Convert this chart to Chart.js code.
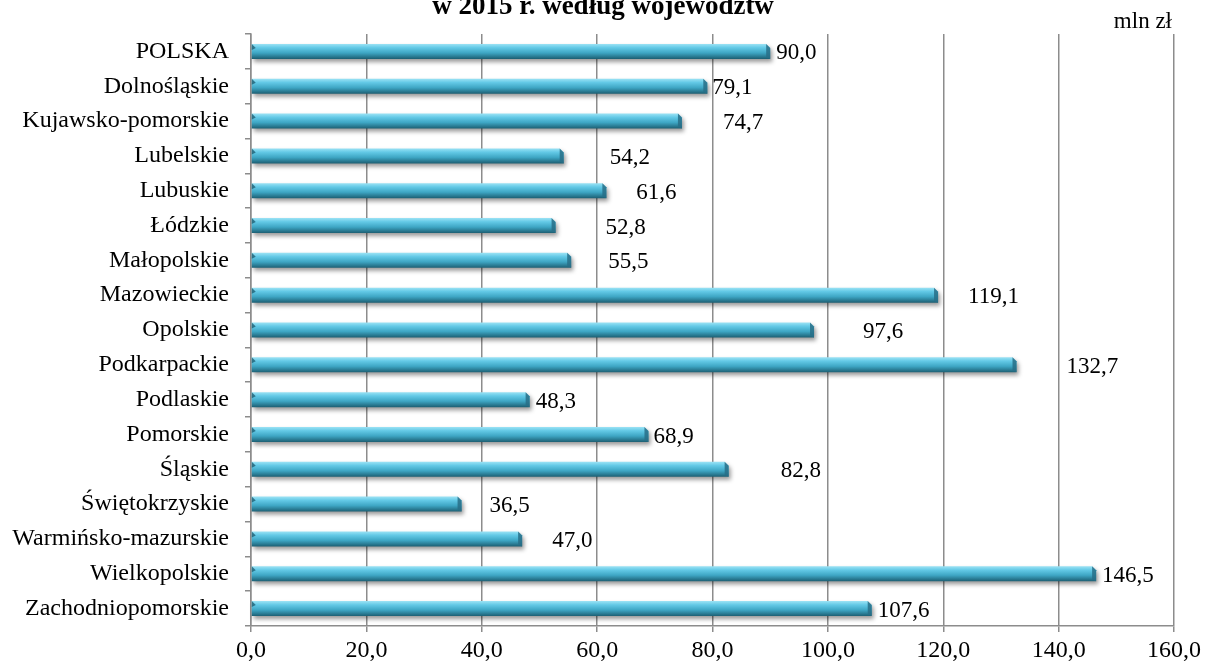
<!DOCTYPE html>
<html lang="pl">
<head>
<meta charset="utf-8">
<title>Województwa 2015</title>
<script src="https://cdn.jsdelivr.net/npm/chart.js@4.4.1/dist/chart.umd.min.js"></script>
<style>
  html, body { margin: 0; padding: 0; background: #fff; overflow: hidden; }
  #wrap { position: relative; width: 1205px; height: 663px; }
</style>
</head>
<body>
<div id="wrap"><canvas id="chart"></canvas></div>
<script>
// categories, top to bottom
const regions = [
    "POLSKA", "Dolnośląskie", "Kujawsko-pomorskie", "Lubelskie", "Lubuskie",
    "Łódzkie", "Małopolskie", "Mazowieckie", "Opolskie", "Podkarpackie",
    "Podlaskie", "Pomorskie", "Śląskie", "Świętokrzyskie", "Warmińsko-mazurskie",
    "Wielkopolskie", "Zachodniopomorskie"
];
// mln zł
const values = [90.0, 79.1, 74.7, 54.2, 61.6, 52.8, 55.5, 119.1, 97.6, 132.7,
                48.3, 68.9, 82.8, 36.5, 47.0, 146.5, 107.6];
const xTicks = [0, 20, 40, 60, 80, 100, 120, 140, 160];

// how far each value label sits right of its bar end (px), as placed in the original
const labelGap = [6, 5, 41, 46, 30, 50, 37, 30, 49, 50, 6, 5, 52, 28, 30, 6, 6];

const serif = "'Liberation Serif', 'DejaVu Serif', serif";
const gridGray = "#8c8c8c";

function fmt(v) {
    return v.toFixed(1).replace(".", ",");
}

/**
 * Paints the bars as shaded cylinders with a drop shadow, like the Excel style
 */
const barLook = {
    id: "barLook",
    beforeDatasetDraw(chart, args) {
        const ctx = chart.ctx;
        args.meta.data.forEach(bar => {
            const h = bar.height;
            const top = bar.y - h / 2;
            const bot = top + h;
            const left = bar.base;
            const right = bar.x;
            const c = 4;

            ctx.save();
            ctx.shadowColor = "rgba(0,0,0,0.4)";
            ctx.shadowBlur = 4;
            ctx.shadowOffsetX = 2;
            ctx.shadowOffsetY = 3;
            let g = ctx.createLinearGradient(0, top, 0, bot);
            g.addColorStop(0, "#9ce3f5");
            g.addColorStop(0.25, "#63c9e6");
            g.addColorStop(0.6, "#3ea6c4");
            g.addColorStop(1, "#1c5f73");
            ctx.fillStyle = g;
            ctx.beginPath();
            ctx.moveTo(left, top);
            ctx.lineTo(right - c, top);
            ctx.lineTo(right, top + c);
            ctx.lineTo(right, bot);
            ctx.lineTo(left, bot);
            ctx.closePath();
            ctx.fill();
            ctx.restore();

            // bevel on the right end
            ctx.save();
            ctx.fillStyle = "rgba(40,110,135,0.85)";
            ctx.beginPath();
            ctx.moveTo(right - c, top);
            ctx.lineTo(right, top + c);
            ctx.lineTo(right, bot);
            ctx.lineTo(right - c, bot - 2);
            ctx.closePath();
            ctx.fill();
            // small bevel on the left end
            ctx.fillStyle = "rgba(30,95,115,0.8)";
            ctx.beginPath();
            ctx.moveTo(left, top);
            ctx.lineTo(left + c, top + c);
            ctx.lineTo(left, top + c + 2);
            ctx.closePath();
            ctx.fill();
            ctx.restore();
        });
        return false;
    }
};

/**
 * Value labels, title and unit text
 */
const textBits = {
    id: "textBits",
    afterDatasetsDraw(chart) {
        const ctx = chart.ctx;
        const meta = chart.getDatasetMeta(0);
        ctx.save();
        ctx.fillStyle = "#000";
        ctx.font = "23px " + serif;
        ctx.textAlign = "left";
        ctx.textBaseline = "middle";
        meta.data.forEach((bar, i) => {
            ctx.fillText(fmt(values[i]), bar.x + labelGap[i], bar.y + 2);
        });

        // unit, top right
        ctx.textAlign = "right";
        ctx.textBaseline = "alphabetic";
        ctx.fillText("mln zł", chart.chartArea.right - 2, 28);

        // title, cut off at the top like in the source
        ctx.font = "bold 27px " + serif;
        ctx.textAlign = "center";
        ctx.fillText("w 2015 r. według województw", 603, 14);
        ctx.restore();
    }
};

const chart = new Chart(document.getElementById("chart"), {
    type: "bar",
    data: {
        labels: regions,
        datasets: [{
            data: values,
            backgroundColor: "#4ab8d8",
            barThickness: 15
        }]
    },
    options: {
        indexAxis: "y",
        responsive: true,
        maintainAspectRatio: false,
        animation: false,
        devicePixelRatio: 1,
        layout: { padding: { top: 34, right: 28, left: 0, bottom: 0 } },
        plugins: {
            legend: { display: false },
            tooltip: { enabled: false },
            title: { display: false }
        },
        scales: {
            x: {
                min: 0,
                max: 160,
                afterBuildTicks: scale => {
                    scale.ticks = xTicks.map(v => ({ value: v }));
                },
                afterFit: scale => { scale.height = 37; },
                ticks: {
                    color: "#000",
                    font: { family: serif, size: 24 },
                    padding: 4,
                    maxRotation: 0,
                    callback: v => fmt(v)
                },
                grid: {
                    color: gridGray,
                    lineWidth: 1.5,
                    tickLength: 6,
                    drawTicks: true
                },
                border: { color: gridGray, width: 1.5 }
            },
            y: {
                afterFit: scale => { scale.width = 251; },
                ticks: {
                    color: "#000",
                    font: { family: serif, size: 24 },
                    padding: 16
                },
                grid: {
                    drawOnChartArea: false,
                    color: gridGray,
                    lineWidth: 1.5,
                    tickLength: 6,
                    offset: true
                },
                border: { color: gridGray, width: 1.5 }
            }
        }
    },
    plugins: [barLook, textBits]
});
</script>
</body>
</html>
